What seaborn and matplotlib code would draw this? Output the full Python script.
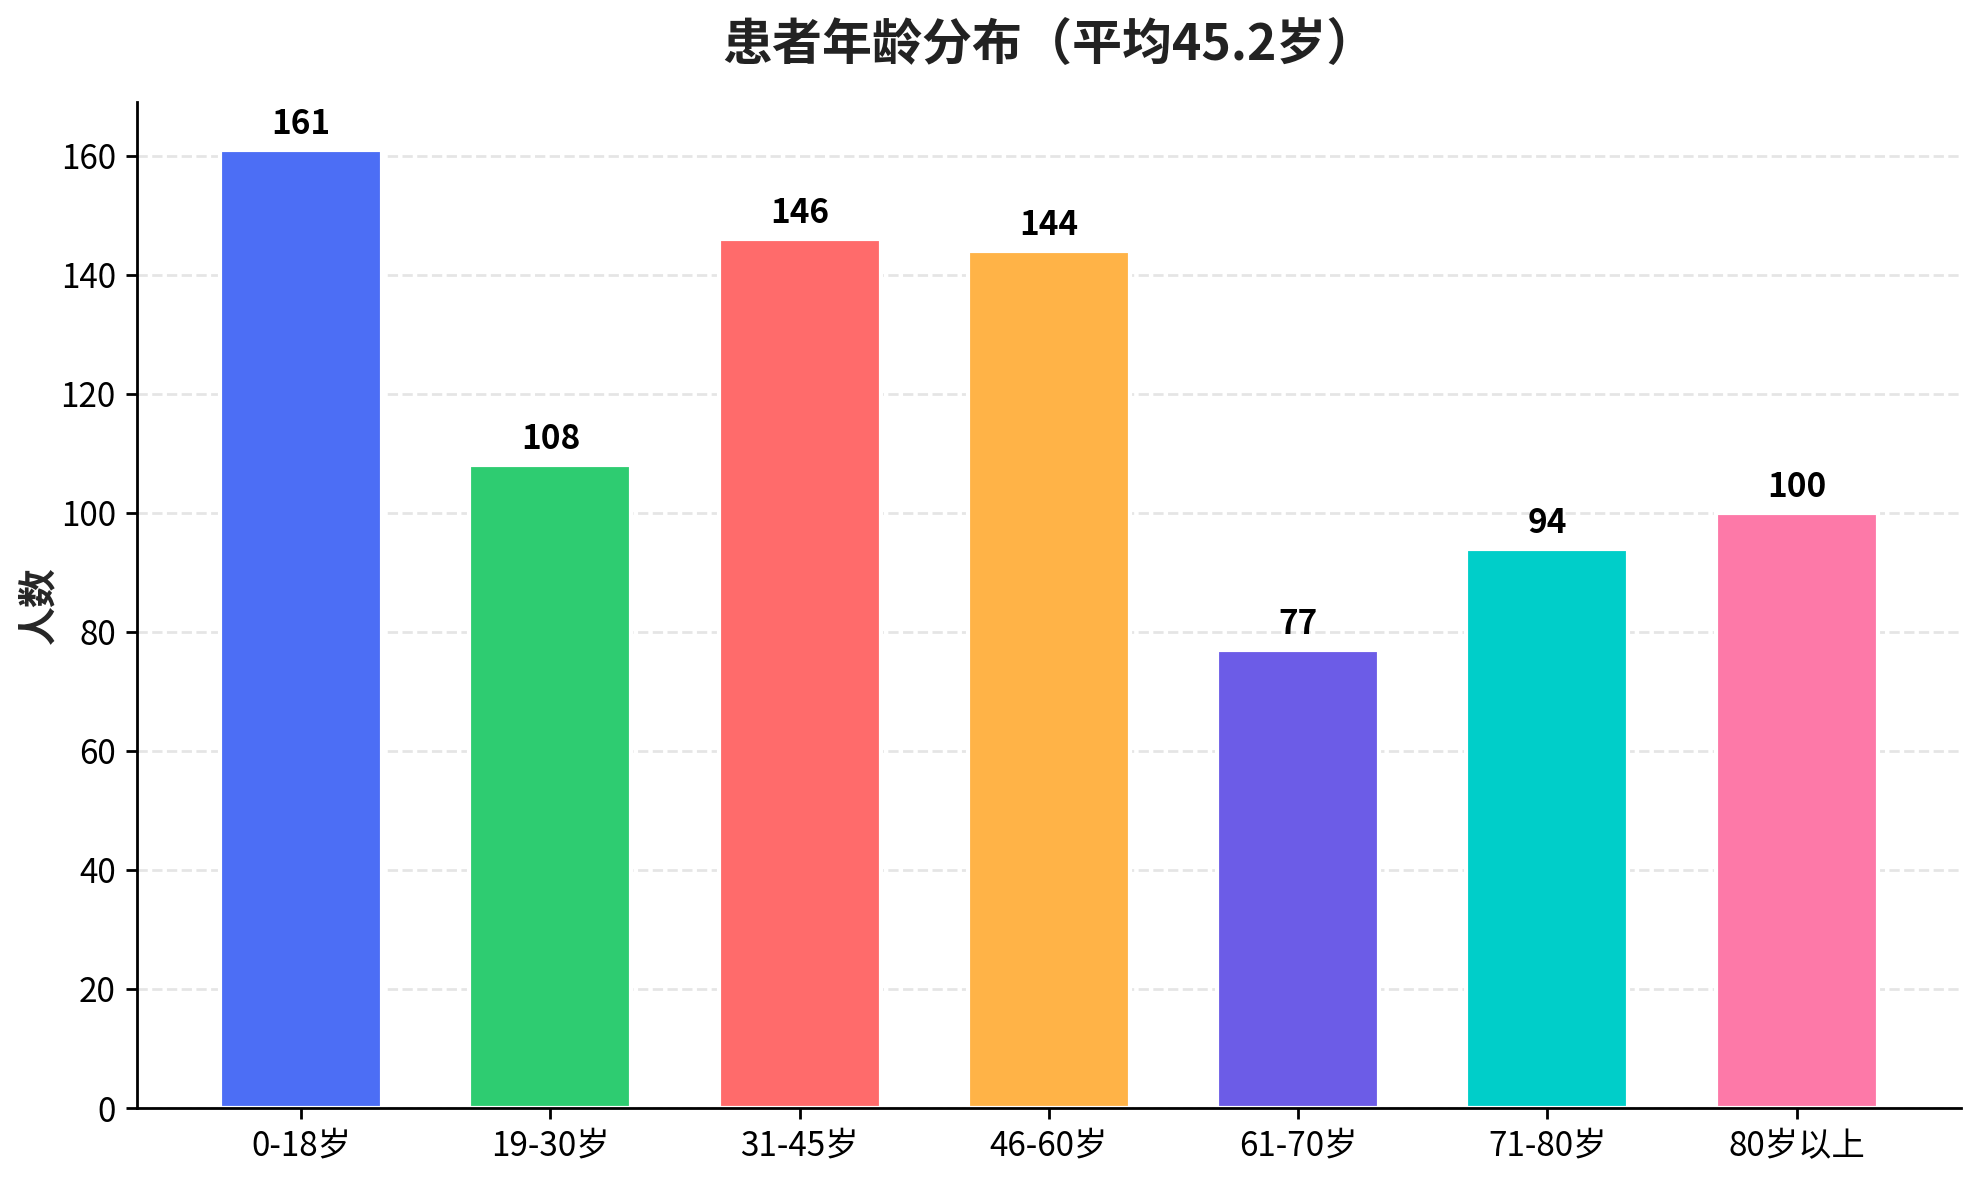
import matplotlib
matplotlib.use("Agg")
import matplotlib.pyplot as plt
import seaborn as sns
import pandas as pd

categories = ["0-18岁", "19-30岁", "31-45岁", "46-60岁", "61-70岁", "71-80岁", "80岁以上"]
counts = [161, 108, 146, 144, 77, 94, 100]
colors = ["#4C6EF5", "#2ECC71", "#FF6B6B", "#FFB347", "#6C5CE7", "#00CEC9", "#FD79A8"]
title = "患者年龄分布（平均45.2岁）"
ylabel = "人数"

sns.set_theme(style="white")
plt.rcParams["font.family"] = ["Noto Sans CJK SC", "DejaVu Sans"]

df = pd.DataFrame({"age": categories, "count": counts})

fig, ax = plt.subplots(figsize=(9.905, 5.9), dpi=200)
fig.subplots_adjust(left=0.069, right=0.990, top=0.9136, bottom=0.061)

sns.barplot(data=df, x="age", y="count", hue="age", palette=colors, legend=False,
            width=0.65, edgecolor="white", linewidth=1.5, saturation=1, ax=ax)

for i, v in enumerate(counts):
    ax.text(i, v + 1.5, f"{v}", ha="center", va="bottom", fontsize=12, fontweight="bold", color="black")

n = len(categories)
ax.set_xlim(-0.66, n - 1 + 0.66)
ax.set_ylim(0, max(counts) * 1.05)
ax.set_title(title, fontsize=18, fontweight="bold", pad=15, color="#222222")
ax.set_ylabel(ylabel, fontsize=14, fontweight="bold", labelpad=1)
ax.set_xlabel("")
ax.yaxis.grid(True, linestyle="--", color="#cccccc", alpha=0.5, linewidth=1)
ax.set_axisbelow(True)
sns.despine(ax=ax)
for s in ["left", "bottom"]:
    ax.spines[s].set_color("black")
    ax.spines[s].set_linewidth(1)
ax.tick_params(axis="both", labelsize=12, colors="black", length=4, width=1, bottom=True, left=True)

fig.savefig("out.png", dpi=200)
